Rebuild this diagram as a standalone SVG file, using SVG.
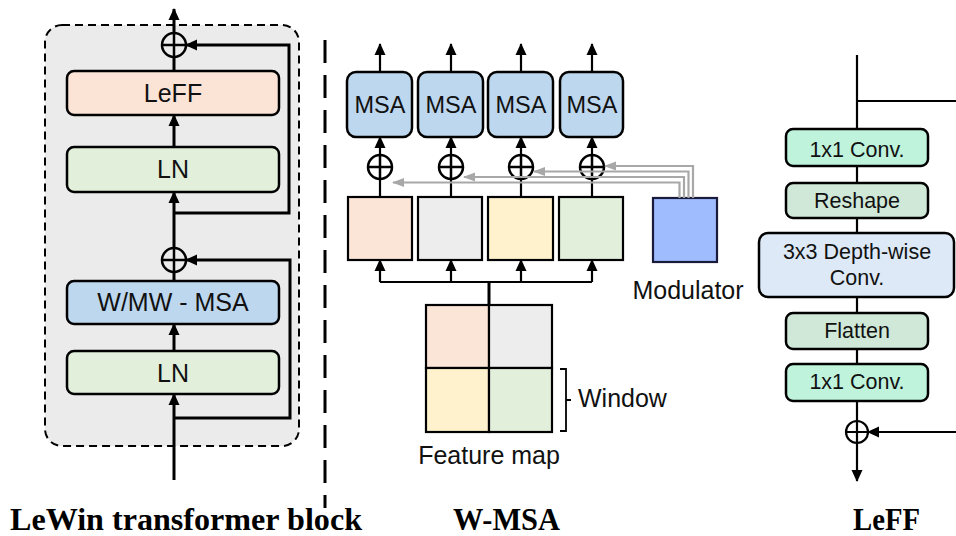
<svg xmlns="http://www.w3.org/2000/svg" width="956" height="536" viewBox="0 0 956 536">
  <defs>
    <marker id="ah" markerUnits="userSpaceOnUse" markerWidth="12" markerHeight="12" viewBox="0 0 12 12" refX="11" refY="6" orient="auto">
      <path d="M0,0.5 L12,6 L0,11.5 Z" fill="#000"/>
    </marker>
    <marker id="ahg" markerUnits="userSpaceOnUse" markerWidth="12" markerHeight="12" viewBox="0 0 12 12" refX="11" refY="6" orient="auto">
      <path d="M0,1.5 L12,6 L0,10.5 Z" fill="#a8a8a8"/>
    </marker>
    <g id="plus">
      <circle cx="0" cy="0" r="12" fill="none" stroke="#000" stroke-width="2.5"/>
      <path d="M-12,0 H12 M0,-12 V12" stroke="#000" stroke-width="2.5"/>
    </g>
  </defs>
  <style>
    .box { stroke: #000; stroke-width: 2.5; }
    .sq { stroke: #000; stroke-width: 2.2; }
    .sans { font-family: "Liberation Sans", Arial, sans-serif; fill: #111; text-anchor: middle; }
    .title { font-family: "Liberation Serif", "Times New Roman", serif; font-weight: bold; font-size: 31px; fill: #000; }
    .ln { stroke: #000; stroke-width: 3; fill: none; }
    .ln2 { stroke: #000; stroke-width: 2.2; fill: none; }
    .gray { stroke: #a8a8a8; stroke-width: 2.2; fill: none; }
  </style>

  <rect width="956" height="536" fill="#fff"/>

  <!-- LeWin transformer block -->
  <g id="lewin-block">
    <rect x="45" y="25" width="254" height="421" rx="17" fill="#ebebeb" stroke="#000" stroke-width="2" stroke-dasharray="8 5"/>
  </g>
  <g id="leff-box">
    <rect class="box" x="67" y="71" width="212" height="44" rx="7" fill="#fbe4d6"/>
    <text class="sans" x="173" y="102" font-size="25">LeFF</text>
  </g>
  <g id="ln-upper">
    <rect class="box" x="67" y="147" width="212" height="45" rx="7" fill="#e2efda"/>
    <text class="sans" x="173" y="178" font-size="25">LN</text>
  </g>
  <g id="msa-box">
    <rect class="box" x="67" y="281" width="212" height="43" rx="7" fill="#bdd7ee"/>
    <text class="sans" x="173" y="311" font-size="25">W/MW - MSA</text>
  </g>
  <g id="ln-lower">
    <rect class="box" x="67" y="351" width="212" height="43" rx="7" fill="#e2efda"/>
    <text class="sans" x="173" y="382" font-size="25">LN</text>
  </g>
  <g id="add-upper"><use href="#plus" x="174" y="45"/></g>
  <g id="add-lower"><use href="#plus" x="174" y="260"/></g>

  <!-- divider -->
  <line x1="325" y1="40" x2="325" y2="508" stroke="#000" stroke-width="3" stroke-dasharray="23 12"/>

  <!-- W-MSA modules -->
  <g id="msa-1">
    <rect class="box" x="347" y="72" width="65" height="65" rx="9" fill="#bdd7ee"/>
    <text class="sans" x="380" y="113" font-size="23.5">MSA</text>
  </g>
  <g id="msa-2">
    <rect class="box" x="418" y="72" width="65" height="65" rx="9" fill="#bdd7ee"/>
    <text class="sans" x="451" y="113" font-size="23.5">MSA</text>
  </g>
  <g id="msa-3">
    <rect class="box" x="488" y="72" width="65" height="65" rx="9" fill="#bdd7ee"/>
    <text class="sans" x="521" y="113" font-size="23.5">MSA</text>
  </g>
  <g id="msa-4">
    <rect class="box" x="560" y="72" width="63" height="65" rx="9" fill="#bdd7ee"/>
    <text class="sans" x="592" y="113" font-size="23.5">MSA</text>
  </g>
  <g id="add-1"><use href="#plus" x="380" y="167"/></g>
  <g id="add-2"><use href="#plus" x="451" y="167"/></g>
  <g id="add-3"><use href="#plus" x="521" y="167"/></g>
  <g id="add-4"><use href="#plus" x="592" y="167"/></g>

  <g id="win-1"><rect class="sq" x="348" y="197" width="64" height="63" fill="#fbe5d6"/></g>
  <g id="win-2"><rect class="sq" x="418" y="197" width="64" height="63" fill="#ededed"/></g>
  <g id="win-3"><rect class="sq" x="488" y="197" width="65" height="63" fill="#fff2cc"/></g>
  <g id="win-4"><rect class="sq" x="559" y="197" width="64" height="63" fill="#e2efda"/></g>

  <g id="modulator">
    <rect x="653" y="198" width="64" height="64" fill="#9fbcff" stroke="#1a1a3a" stroke-width="2.2"/>
    <text class="sans" x="688" y="299" font-size="25">Modulator</text>
  </g>

  <g id="feature-map">
    <rect class="sq" x="426" y="305" width="63" height="63" fill="#fbe5d6"/>
    <rect class="sq" x="489" y="305" width="63" height="63" fill="#ededed"/>
    <rect class="sq" x="426" y="368" width="63" height="64" fill="#fff2cc"/>
    <rect class="sq" x="489" y="368" width="63" height="64" fill="#e2efda"/>
    <path d="M560,369 H566 V431 H560 M566,400 H571" stroke="#000" stroke-width="1.8" fill="none"/>
    <text class="sans" x="578" y="407" font-size="25" style="text-anchor:start">Window</text>
    <text class="sans" x="489" y="464" font-size="25">Feature map</text>
  </g>

  <!-- LeFF -->
  <g id="conv1">
    <rect class="box" x="786" y="129" width="142" height="37" rx="7" fill="#bff3dc"/>
    <text class="sans" x="857" y="157" font-size="21.5">1x1 Conv.</text>
  </g>
  <g id="reshape">
    <rect class="box" x="786" y="183" width="142" height="35" rx="7" fill="#cfe8d7"/>
    <text class="sans" x="857" y="208" font-size="21.5">Reshape</text>
  </g>
  <g id="dwconv">
    <rect class="box" x="759" y="233" width="195" height="64" rx="9" fill="#dde9f6"/>
    <text class="sans" x="857" y="259" font-size="21.5">3x3 Depth-wise</text>
    <text class="sans" x="857" y="285" font-size="21.5">Conv.</text>
  </g>
  <g id="flatten">
    <rect class="box" x="786" y="313" width="142" height="36" rx="7" fill="#cfe8d7"/>
    <text class="sans" x="857" y="338" font-size="21.5">Flatten</text>
  </g>
  <g id="conv2">
    <rect class="box" x="786" y="364" width="142" height="37" rx="7" fill="#bff3dc"/>
    <text class="sans" x="857" y="389" font-size="21.5">1x1 Conv.</text>
  </g>
  <g id="add-leff">
    <circle cx="857" cy="432" r="11" fill="none" stroke="#000" stroke-width="2.2"/>
    <path d="M846,432 H868 M857,421 V443" stroke="#000" stroke-width="2.2"/>
  </g>

  <!-- connectors -->
  <g id="connectors">
    <!-- LeWin block -->
    <line class="ln" x1="174" y1="33" x2="174" y2="9" marker-end="url(#ah)"/>
    <line class="ln" x1="174" y1="71" x2="174" y2="57"/>
    <line class="ln" x1="174" y1="147" x2="174" y2="115" marker-end="url(#ah)"/>
    <line class="ln" x1="174" y1="248" x2="174" y2="192" marker-end="url(#ah)"/>
    <path class="ln" d="M174,213 H289 V45 H186" marker-end="url(#ah)"/>
    <line class="ln" x1="174" y1="281" x2="174" y2="272"/>
    <line class="ln" x1="174" y1="351" x2="174" y2="324" marker-end="url(#ah)"/>
    <line class="ln" x1="174" y1="480" x2="174" y2="394" marker-end="url(#ah)"/>
    <path class="ln" d="M174,418 H290 V260 H186" marker-end="url(#ah)"/>

    <!-- MSA outputs -->
    <line class="ln2" x1="380" y1="72" x2="380" y2="44" marker-end="url(#ah)"/>
    <line class="ln2" x1="451" y1="72" x2="451" y2="44" marker-end="url(#ah)"/>
    <line class="ln2" x1="521" y1="72" x2="521" y2="44" marker-end="url(#ah)"/>
    <line class="ln2" x1="592" y1="72" x2="592" y2="44" marker-end="url(#ah)"/>
    <!-- add to MSA -->
    <line class="ln2" x1="380" y1="155" x2="380" y2="137" marker-end="url(#ah)"/>
    <line class="ln2" x1="451" y1="155" x2="451" y2="137" marker-end="url(#ah)"/>
    <line class="ln2" x1="521" y1="155" x2="521" y2="137" marker-end="url(#ah)"/>
    <line class="ln2" x1="592" y1="155" x2="592" y2="137" marker-end="url(#ah)"/>
    <!-- window to add -->
    <line class="ln2" x1="380" y1="197" x2="380" y2="179"/>
    <line class="ln2" x1="451" y1="197" x2="451" y2="179"/>
    <line class="ln2" x1="521" y1="197" x2="521" y2="179"/>
    <line class="ln2" x1="592" y1="197" x2="592" y2="179"/>
    <!-- modulator feeds -->
    <path class="gray" d="M693,198 V166 H605" marker-end="url(#ahg)"/>
    <path class="gray" d="M688.5,198 V171.5 H534" marker-end="url(#ahg)"/>
    <path class="gray" d="M684,198 V177 H464" marker-end="url(#ahg)"/>
    <path class="gray" d="M679.5,198 V182.5 H393" marker-end="url(#ahg)"/>
    <!-- feature map split -->
    <line class="ln" x1="489" y1="305" x2="489" y2="282"/>
    <path class="ln2" d="M380,282 H592"/>
    <line class="ln2" x1="380" y1="282" x2="380" y2="260" marker-end="url(#ah)"/>
    <line class="ln2" x1="451" y1="282" x2="451" y2="260" marker-end="url(#ah)"/>
    <line class="ln2" x1="521" y1="282" x2="521" y2="260" marker-end="url(#ah)"/>
    <line class="ln2" x1="592" y1="282" x2="592" y2="260" marker-end="url(#ah)"/>

    <!-- LeFF -->
    <path class="ln2" d="M857,55 V129 M857,101 H956"/>
    <line class="ln2" x1="857" y1="166" x2="857" y2="183"/>
    <line class="ln2" x1="857" y1="218" x2="857" y2="233"/>
    <line class="ln2" x1="857" y1="297" x2="857" y2="313"/>
    <line class="ln2" x1="857" y1="349" x2="857" y2="364"/>
    <line class="ln2" x1="857" y1="401" x2="857" y2="421"/>
    <line class="ln2" x1="857" y1="443" x2="857" y2="481" marker-end="url(#ah)"/>
    <line class="ln2" x1="956" y1="432" x2="868" y2="432" marker-end="url(#ah)"/>
  </g>

  <!-- captions -->
  <text class="title" x="10" y="530" textLength="352" lengthAdjust="spacingAndGlyphs">LeWin transformer block</text>
  <text class="title" x="453" y="530" textLength="107" lengthAdjust="spacingAndGlyphs">W-MSA</text>
  <text class="title" x="853" y="530" textLength="67" lengthAdjust="spacingAndGlyphs">LeFF</text>
</svg>
